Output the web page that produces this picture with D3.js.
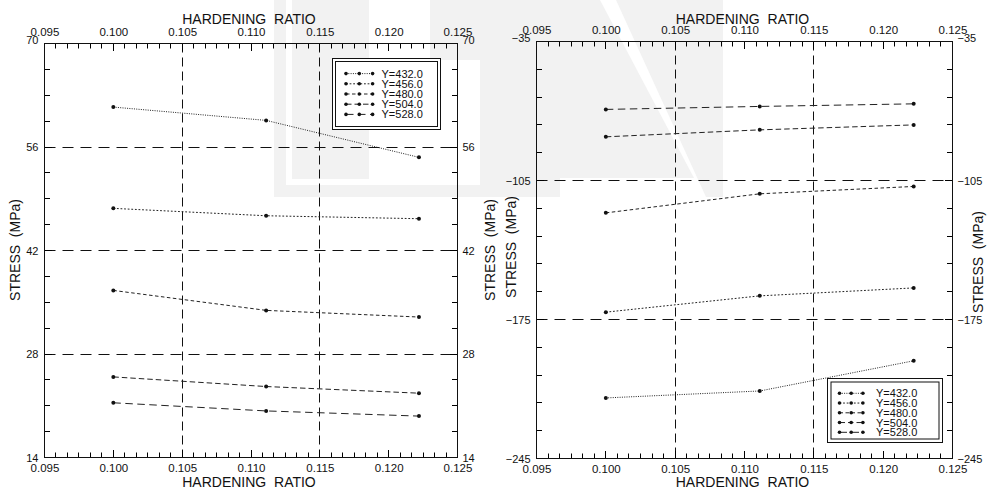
<!DOCTYPE html>
<html>
<head>
<meta charset="utf-8">
<script src="https://cdn.jsdelivr.net/npm/d3@7"></script>
<style>
  body { margin: 0; background: #fff; }
  svg { display: block; font-family: 'Liberation Sans', Arial, sans-serif; }
  .title { white-space: pre; }
</style>
</head>
<body>
<svg></svg>
<script>
// hardening ratio at which each run was done
let ratios = [0.1, 0.1111, 0.1222]
let seriesNames = ['Y=432.0', 'Y=456.0', 'Y=480.0', 'Y=504.0', 'Y=528.0']

// left chart, stress (MPa)
let leftY432 = [61.4, 59.6, 54.6]
let leftY456 = [47.7, 46.7, 46.3]
let leftY480 = [36.6, 33.9, 33.0]
let leftY504 = [24.9, 23.6, 22.7]
let leftY528 = [21.4, 20.3, 19.6]

// right chart, stress (MPa)
let rightY432 = [-214.5, -211.0, -195.8]
let rightY456 = [-171.3, -163.1, -159.1]
let rightY480 = [-121.3, -111.7, -108.0]
let rightY504 = [-83.0, -79.5, -77.0]
let rightY528 = [-69.2, -67.7, -66.4]

let xTicks = [0.095, 0.100, 0.105, 0.110, 0.115, 0.120, 0.125]
let xGrid = [0.105, 0.115]
let leftYTicks = [14, 28, 42, 56, 70]
let rightYTicks = [-245, -175, -105, -35]

let width = 989
let height = 493
let dashes = ['1,1.3', '1.8,1.8', '3.5,2.5', '5.5,3', '7.5,4.5']
let ink = '#111'

let svg = d3.select('svg')
  .attr('width', width)
  .attr('height', height)

let snap = (v) => Math.round(v - 0.5) + 0.5

let drawWatermark = () => {
  let g = svg.append('g').attr('fill', '#f2f2f2')
  g.append('rect').attr('x', 274).attr('y', 0).attr('width', 286).attr('height', 197)
  g.append('rect').attr('x', 286).attr('y', 0).attr('width', 194).attr('height', 185).attr('fill', '#fff')
  g.append('rect').attr('x', 292).attr('y', 0).attr('width', 77).attr('height', 179)
  g.append('rect').attr('x', 430).attr('y', 0).attr('width', 50).attr('height', 60)
  g.append('polygon').attr('points', '560,0 600,0 694,178 560,178')
  g.append('polygon').attr('points', '616,0 723,0 723,197 706,197')
}

let styleAxis = (g, size) => {
  g.select('.domain').remove()
  g.selectAll('line').remove()
  g.selectAll('text')
    .attr('fill', ink)
    .attr('font-size', size)
    .attr('font-family', "'Liberation Sans', Arial, sans-serif")
}

let drawPanel = (p) => {
  let xScale = d3.scaleLinear().domain([0.095, 0.125]).range([p.x0, p.x1])
  let yScale = d3.scaleLinear().domain([p.yTicks[0], p.yTicks[p.yTicks.length - 1]]).range([p.y1, p.y0])
  let g = svg.append('g')

  // grid
  g.selectAll('.hgrid')
    .data(p.yTicks.slice(1, -1))
    .enter()
    .append('line')
    .attr('x1', p.x0).attr('x2', p.x1)
    .attr('y1', (d) => snap(yScale(d))).attr('y2', (d) => snap(yScale(d)))
    .attr('stroke', ink)
    .attr('stroke-dasharray', '11,7')
  g.selectAll('.vgrid')
    .data(xGrid)
    .enter()
    .append('line')
    .attr('x1', (d) => snap(xScale(d))).attr('x2', (d) => snap(xScale(d)))
    .attr('y1', p.y0).attr('y2', p.y1)
    .attr('stroke', ink)
    .attr('stroke-dasharray', '9,5')

  // tick marks, all pointing into the frame, as one path
  let xMinor = d3.range(0, 37).map((i) => 0.095 + i * 0.005 / 6)
  let step = (p.yTicks[1] - p.yTicks[0]) / p.ySub
  let yMinor = d3.range(0, (p.yTicks.length - 1) * p.ySub + 1).map((i) => p.yTicks[0] + i * step)
  let tickPath = d3.path()
  xMinor.forEach((v, i) => {
    let px = snap(xScale(v))
    let len = i % 6 === 0 ? 7.5 : 5
    tickPath.moveTo(px, p.y1); tickPath.lineTo(px, p.y1 - len)
    tickPath.moveTo(px, p.y0); tickPath.lineTo(px, p.y0 + len)
  })
  yMinor.forEach((v, i) => {
    let py = snap(yScale(v))
    let len = i % p.ySub === 0 ? 7.5 : 5.5
    tickPath.moveTo(p.x0, py); tickPath.lineTo(p.x0 + len, py)
    tickPath.moveTo(p.x1, py); tickPath.lineTo(p.x1 - len, py)
  })
  g.append('path')
    .attr('d', tickPath.toString())
    .attr('fill', 'none')
    .attr('stroke', '#000')
    .attr('stroke-width', 1)

  // tick labels from d3 axes
  let axes = [
    [d3.axisBottom(xScale), 'translate(0,' + p.y1 + ')', xTicks, 6, d3.format('.3f')],
    [d3.axisTop(xScale), 'translate(0,' + p.y0 + ')', xTicks, 8, d3.format('.3f')],
    [d3.axisLeft(yScale), 'translate(' + p.x0 + ',0)', p.yTicks, 6, d3.format('d')],
    [d3.axisRight(yScale), 'translate(' + p.x1 + ',0)', p.yTicks, 5, d3.format('d')]
  ]
  axes.forEach(([ax, tr, major, pad, fmt], i) => {
    let a = g.append('g')
      .attr('transform', tr)
      .call(ax.tickValues(major).tickSize(0).tickPadding(pad).tickFormat(fmt))
      .call((s) => styleAxis(s, i < 2 ? 11.5 : 11))
    if (i >= 2) {
      a.selectAll('text')
        .filter((d) => d === p.yTicks[p.yTicks.length - 1])
        .attr('dy', '0.02em')
    }
  })

  // frame
  g.append('rect')
    .attr('x', p.x0).attr('y', p.y0)
    .attr('width', p.x1 - p.x0).attr('height', p.y1 - p.y0)
    .attr('fill', 'none')
    .attr('stroke', ink)

  // series
  let line = d3.line()
    .x((d, i) => xScale(ratios[i]))
    .y((d) => yScale(d))
  p.series.forEach((vals, k) => {
    g.append('path')
      .attr('d', line(vals))
      .attr('fill', 'none')
      .attr('stroke', '#222')
      .attr('stroke-width', 1)
      .attr('stroke-dasharray', dashes[k])
    g.selectAll('.pt' + k)
      .data(vals)
      .enter()
      .append('circle')
      .attr('cx', (d, i) => xScale(ratios[i]))
      .attr('cy', (d) => yScale(d))
      .attr('r', 2)
      .attr('fill', ink)
  })

  // titles
  let mid = (p.x0 + p.x1) / 2
  g.append('text').attr('class', 'title')
    .attr('x', mid - 2).attr('y', 24)
    .attr('text-anchor', 'middle').attr('font-size', 14).attr('fill', ink)
    .text('HARDENING  RATIO')
  g.append('text').attr('class', 'title')
    .attr('x', mid - 2).attr('y', 487)
    .attr('text-anchor', 'middle').attr('font-size', 14).attr('fill', ink)
    .text('HARDENING  RATIO')
  p.stressLabels.forEach(([lx, ly]) => {
    g.append('text').attr('class', 'title')
      .attr('transform', 'translate(' + lx + ',' + ly + ') rotate(-90)')
      .attr('text-anchor', 'middle').attr('font-size', 14).attr('fill', ink)
      .text('STRESS  (MPa)')
  })

  // legend
  let L = p.legend
  let lg = g.append('g')
  lg.append('rect')
    .attr('x', L.x).attr('y', L.y).attr('width', L.w).attr('height', L.h)
    .attr('fill', '#fff').attr('stroke', ink)
  lg.append('rect')
    .attr('x', L.x + L.gap).attr('y', L.y + L.gap)
    .attr('width', L.w - 2 * L.gap).attr('height', L.h - 2 * L.gap)
    .attr('fill', 'none').attr('stroke', ink)
  seriesNames.forEach((name, k) => {
    let cy = L.first + k * L.row
    let xs = [L.mx, L.mx + L.ms, L.mx + 2 * L.ms]
    lg.append('line')
      .attr('x1', xs[0]).attr('x2', xs[2])
      .attr('y1', cy).attr('y2', cy)
      .attr('stroke', '#222')
      .attr('stroke-dasharray', dashes[k])
    xs.forEach((mx) => {
      lg.append('circle').attr('cx', mx).attr('cy', cy).attr('r', 1.8).attr('fill', ink)
    })
    lg.append('text')
      .attr('x', L.tx).attr('y', cy + 4)
      .attr('font-size', 11).attr('fill', ink)
      .text(name)
  })
}

drawWatermark()

drawPanel({
  x0: 44.5, x1: 457.5, y0: 43.5, y1: 457.5,
  yTicks: leftYTicks, ySub: 4,
  series: [leftY432, leftY456, leftY480, leftY504, leftY528],
  stressLabels: [[20, 250], [495, 250]],
  legend: { x: 332.5, y: 58.5, w: 108, h: 71, gap: 3, first: 73.6, row: 10.2, mx: 346, ms: 13.3, tx: 381.5 }
})

drawPanel({
  x0: 536.5, x1: 952.5, y0: 41.5, y1: 458.5,
  yTicks: rightYTicks, ySub: 5,
  series: [rightY432, rightY456, rightY480, rightY504, rightY528],
  stressLabels: [[516, 247], [983, 262]],
  legend: { x: 827.5, y: 378.5, w: 115, h: 64, gap: 3.5, first: 393.3, row: 9.75, mx: 839.5, ms: 11.7, tx: 876 }
})
</script>
</body>
</html>
